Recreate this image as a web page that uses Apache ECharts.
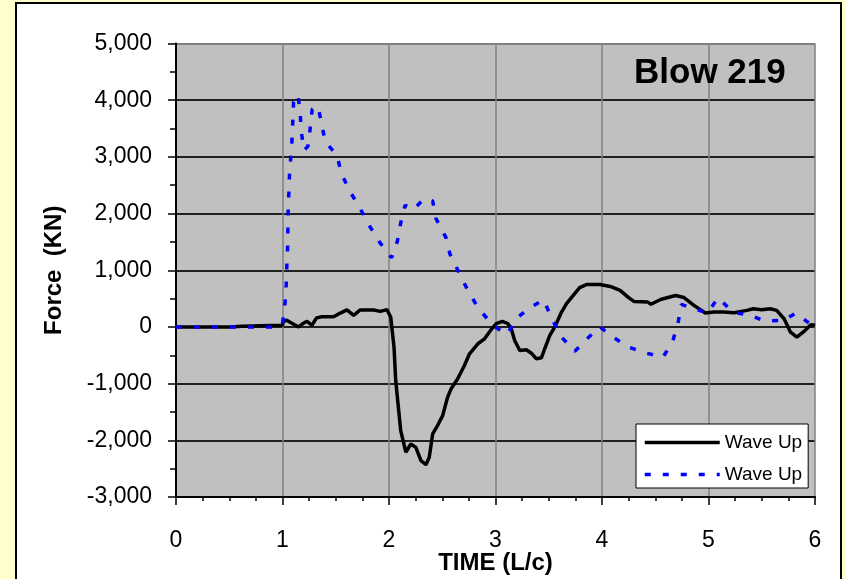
<!DOCTYPE html>
<html>
<head>
<meta charset="utf-8">
<script src="https://cdn.jsdelivr.net/npm/echarts@6/dist/echarts.min.js"></script>
<style>
  html, body { margin: 0; padding: 0; background: #ffffcc; width: 846px; height: 579px; overflow: hidden; }
  #frame { position: absolute; left: 15px; top: 2px; width: 827px; height: 600px; box-sizing: border-box; border: 2px solid #000; background: #fff; }
  #chart { position: absolute; left: 0; top: 0; width: 846px; height: 579px; }
</style>
</head>
<body>
<div id="frame"></div>
<div id="chart"></div>
<script>
// time in L/c, force in kN
const solidTime = [0, 0.5, 0.62, 0.8, 1.0, 1.01, 1.04, 1.088, 1.15, 1.198, 1.23, 1.276, 1.32, 1.37, 1.48,
  1.543, 1.605, 1.668, 1.73, 1.856, 1.92, 1.98, 2.016, 2.047, 2.063, 2.088, 2.11, 2.158, 2.205, 2.252,
  2.3, 2.347, 2.378, 2.41, 2.456, 2.504, 2.55, 2.583, 2.645, 2.708, 2.756, 2.834, 2.897, 2.96, 3.007,
  3.064, 3.117, 3.148, 3.18, 3.228, 3.29, 3.337, 3.384, 3.431, 3.462, 3.51, 3.557, 3.62, 3.667, 3.73,
  3.79, 3.858, 3.98, 4.078, 4.17, 4.25, 4.3, 4.43, 4.46, 4.55, 4.69, 4.77, 4.86, 4.97, 5.05, 5.14,
  5.24, 5.36, 5.42, 5.5, 5.58, 5.64, 5.71, 5.77, 5.83, 5.9, 5.96, 6.0]
const solidForce = [0, 0, 10, 20, 30, 106, 120, 66, 0, 66, 100, 30, 160, 180, 180,
  245, 300, 205, 300, 300, 275, 305, 175, -357, -945, -1417, -1830, -2210, -2065, -2125,
  -2360, -2430, -2300, -1887, -1740, -1564, -1240, -1092, -915, -680, -474, -297, -209, -44, 57,
  97, 57, -32, -239, -415, -403, -463, -562, -545, -385, -150, 0, 262, 410, 556,
  692, 750, 750, 715, 645, 516, 450, 438, 400, 485, 555, 518, 385, 245, 262, 262,
  250, 292, 321, 303, 321, 292, 145, -92, -180, -74, 39, 30]

const dashTime = [0, 0.95, 1.0, 1.012, 1.025, 1.035, 1.04, 1.048, 1.053, 1.066, 1.078, 1.09, 1.104, 1.145,
  1.167, 1.176, 1.204, 1.239, 1.261, 1.279, 1.333, 1.37, 1.402, 1.512, 1.552, 1.631, 1.718, 1.809,
  1.913, 2.025, 2.079, 2.11, 2.151, 2.227, 2.331, 2.41, 2.441, 2.535, 2.573, 2.655, 2.74, 2.841,
  2.96, 2.99, 3.106, 3.21, 3.32, 3.452, 3.525, 3.62, 3.745, 3.87, 3.98, 4.112, 4.25, 4.416, 4.573,
  4.664, 4.714, 4.745, 4.86, 4.99, 5.09, 5.23, 5.39, 5.53, 5.7, 5.82, 5.99, 6.0]
const dashForce = [0, 0, 50, 250, 450, 755, 1050, 1400, 2020, 2700, 3000, 3320, 3970, 4100,
  3750, 3440, 3115, 3190, 3516, 3840, 3894, 3557, 3262, 3027, 2714, 2395, 2130, 1805,
  1492, 1220, 1516, 1834, 2147, 2070, 2265, 2223, 1912, 1576, 1281, 968, 645, 322,
  67, 9, -132, 173, 332, 480, 162, -180, -428, -191, 0, -191, -357, -463, -534,
  -251, 67, 397, 326, 245, 514, 262, 203, 104, 115, 245, 0, 0]

const xTicks = [0, 1, 2, 3, 4, 5, 6]
const yTicks = [-3000, -2000, -1000, 0, 1000, 2000, 3000, 4000, 5000]
const seriesNames = ['Wave Up 1', 'Wave Up 2']
const legendLabel = 'Wave Up'

const fontFamily = '"Liberation Sans", Arial, sans-serif'
const chart = echarts.init(document.getElementById('chart'))

const toPairs = (ts, vs) => ts.map((t, i) => [t, vs[i]])

// horizontal grid lines are dark, top border is grey like the verticals
const hLineColors = yTicks.map((v, i) => (i === yTicks.length - 1 ? '#808080' : '#202020'))

const option = {
  animation: false,
  backgroundColor: 'transparent',
  title: {
    text: 'Blow 219',
    left: 634,
    top: 56,
    padding: 0,
    textStyle: { fontSize: 35, fontWeight: 'bold', color: '#000', fontFamily }
  },
  legend: {
    orient: 'vertical',
    left: 636,
    top: 424,
    backgroundColor: '#fff',
    borderColor: '#000',
    borderWidth: 1,
    borderRadius: 0,
    padding: [9, 6, 4, 7],
    itemWidth: 75,
    itemHeight: 14,
    itemGap: 13,
    data: seriesNames,
    formatter: () => legendLabel,
    itemStyle: { opacity: 0 },
    lineStyle: { width: 3.5 },
    textStyle: { fontSize: 19, color: '#000', fontFamily }
  },
  grid: {
    left: 176,
    right: 31,
    top: 43.5,
    bottom: 82,
    outerBoundsMode: 'none',
    show: true,
    backgroundColor: '#c0c0c0',
    borderWidth: 0
  },
  xAxis: {
    type: 'value',
    min: xTicks[0],
    max: xTicks[xTicks.length - 1],
    interval: 1,
    name: 'TIME (L/c)',
    nameLocation: 'middle',
    nameGap: 54,
    nameMoveOverlap: false,
    nameTextStyle: { fontSize: 24, fontWeight: 'bold', color: '#000', fontFamily },
    axisLine: { onZero: false, lineStyle: { color: '#000', width: 2 } },
    axisTick: { length: 8, lineStyle: { color: '#000', width: 1.5 } },
    minorTick: { show: true, splitNumber: 4, length: 4, lineStyle: { color: '#000', width: 1.5 } },
    axisLabel: { fontSize: 23, color: '#000', margin: 32, fontFamily },
    splitLine: { show: true, lineStyle: { color: '#808080', width: 1.5 } }
  },
  yAxis: {
    type: 'value',
    min: yTicks[0],
    max: yTicks[yTicks.length - 1],
    interval: 1000,
    name: 'Force  (KN)',
    nameLocation: 'middle',
    nameGap: 110,
    nameMoveOverlap: false,
    nameTextStyle: { fontSize: 24, fontWeight: 'bold', color: '#000', fontFamily },
    axisLine: { show: true, lineStyle: { color: '#000', width: 2 } },
    axisTick: { show: true, length: 8, lineStyle: { color: '#000', width: 1.5 } },
    minorTick: { show: true, splitNumber: 2, length: 6, lineStyle: { color: '#000', width: 1.5 } },
    axisLabel: {
      fontSize: 23, color: '#000', margin: 24, fontFamily,
      formatter: v => v.toLocaleString('en-US')
    },
    splitLine: { show: true, lineStyle: { color: hLineColors, width: 2 } }
  },
  series: [
    {
      name: seriesNames[0],
      type: 'line',
      data: toPairs(solidTime, solidForce),
      symbol: 'none',
      lineStyle: { color: '#000', width: 3.5 },
      itemStyle: { color: '#000' }
    },
    {
      name: seriesNames[1],
      type: 'line',
      data: toPairs(dashTime, dashForce),
      symbol: 'none',
      lineStyle: { color: '#0000ff', width: 3.5, type: [6, 12] },
      itemStyle: { color: '#0000ff' }
    }
  ]
}

chart.setOption(option)
</script>
</body>
</html>
